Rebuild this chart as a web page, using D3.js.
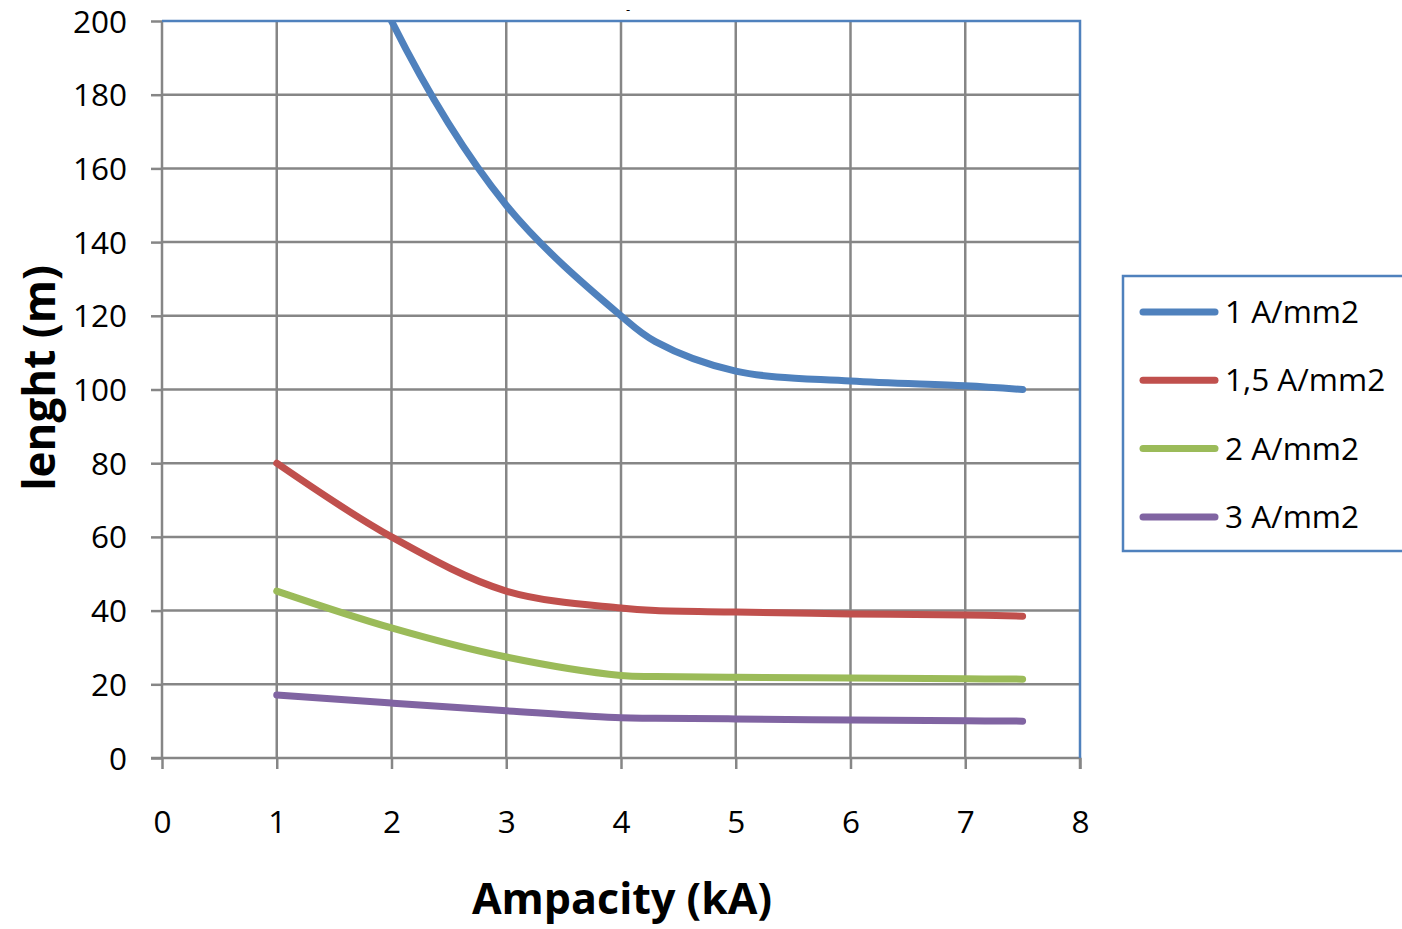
<!DOCTYPE html>
<html>
<head>
<meta charset="utf-8">
<script src="https://cdn.jsdelivr.net/npm/d3@7"></script>
<style>
  body { margin: 0; background: #fff; }
  text { font-family: "Open Sans", sans-serif; fill: #000; }
</style>
</head>
<body>
<div id="chart"></div>
<script>
// data (blue at 1 kA is off the top, estimated and clipped)
let amps = [1, 2, 3, 4, 4.3, 5, 6, 7, 7.5];
let len_blue = [280, 200, 150, 120, 113, 105, 102.3, 101, 100];
let len_red = [80, 60, 45.3, 40.7, 40, 39.6, 39.1, 38.8, 38.5];
let len_green = [45.3, 35.3, 27.4, 22.4, 22.1, 21.9, 21.7, 21.5, 21.4];
let len_purple = [17.1, 14.9, 12.8, 10.9, 10.8, 10.6, 10.3, 10.1, 10];

let series_names = ['1 A/mm2', '1,5 A/mm2', '2 A/mm2', '3 A/mm2'];
let series_colors = ['#4f81bd', '#c0504d', '#9bbb59', '#8064a2'];

let x_ticks = [0, 1, 2, 3, 4, 5, 6, 7, 8];
let y_ticks = [0, 20, 40, 60, 80, 100, 120, 140, 160, 180, 200];

let svg_width = 1402;
let svg_height = 929;

// plot area in pixels
let plot_left = 162, plot_right = 1080, plot_top = 21, plot_bottom = 758;

let svg = d3.select('#chart')
            .append('svg')
            .attr('width', svg_width)
            .attr('height', svg_height);

let x = d3.scaleLinear().domain([0, 8]).range([plot_left, plot_right]);
let y = d3.scaleLinear().domain([0, 200]).range([plot_bottom, plot_top]);

let grid_color = '#868686';

// clip lines to the plot area
svg.append('clipPath')
   .attr('id', 'plot_clip')
   .append('rect')
   .attr('x', plot_left).attr('y', plot_top)
   .attr('width', plot_right - plot_left)
   .attr('height', plot_bottom - plot_top + 20);

// vertical gridlines
svg.selectAll('.vgrid')
   .data(x_ticks.slice(1, -1))
   .enter()
   .append('line')
   .attr('x1', d => x(d)).attr('x2', d => x(d))
   .attr('y1', plot_top).attr('y2', plot_bottom)
   .attr('stroke', grid_color).attr('stroke-width', 2.5);

// horizontal gridlines
svg.selectAll('.hgrid')
   .data(y_ticks.slice(1, -1))
   .enter()
   .append('line')
   .attr('x1', plot_left).attr('x2', plot_right)
   .attr('y1', d => y(d)).attr('y2', d => y(d))
   .attr('stroke', grid_color).attr('stroke-width', 2.5);

// axes
let x_axis = d3.axisBottom(x).tickValues(x_ticks).tickSize(11).tickFormat(d3.format('d'));
let y_axis = d3.axisLeft(y).tickValues(y_ticks).tickSize(11).tickFormat(d3.format('d'));

let gx = svg.append('g').attr('transform', `translate(0,${plot_bottom})`).call(x_axis);
let gy = svg.append('g').attr('transform', `translate(${plot_left},0)`).call(y_axis);

[gx, gy].forEach(g => {
  g.select('.domain').attr('stroke', grid_color).attr('stroke-width', 2.5);
  g.selectAll('.tick line').attr('stroke', grid_color).attr('stroke-width', 2.5);
  g.selectAll('.tick text')
   .attr('font-family', '"Open Sans", sans-serif')
   .attr('font-size', 31.5)
   .attr('fill', '#000');
});
gx.select('.domain').attr('d', `M${plot_left - 11},0H${plot_right}V11`);
gy.select('.domain').attr('d', `M0,${plot_top}V${plot_bottom}`);
gx.selectAll('.tick text').attr('dy', 0).attr('y', 75);
gy.selectAll('.tick text').attr('x', -35).attr('dy', '0.35em');

// plot border top and right (blue)
svg.append('path')
   .attr('d', `M${plot_left},${plot_top}H${plot_right}V${plot_bottom}`)
   .attr('fill', 'none')
   .attr('stroke', '#4f81bd')
   .attr('stroke-width', 2.5);

// lines
let line = d3.line()
             .x(d => x(d[0]))
             .y(d => y(d[1]))
             .curve(d3.curveCatmullRom.alpha(0.5));

let all_series = [len_blue, len_red, len_green, len_purple].map(v => d3.zip(amps, v));

svg.append('g')
   .attr('clip-path', 'url(#plot_clip)')
   .selectAll('path')
   .data(all_series)
   .enter()
   .append('path')
   .attr('d', d => line(d))
   .attr('fill', 'none')
   .attr('stroke', (d, i) => series_colors[i])
   .attr('stroke-width', 7)
   .attr('stroke-linecap', 'round')
   .attr('stroke-linejoin', 'round');

// axis titles
svg.append('text')
   .attr('x', 622)
   .attr('y', 914)
   .attr('text-anchor', 'middle')
   .attr('font-size', 43)
   .attr('font-weight', 'bold')
   .text('Ampacity (kA)');

svg.append('text')
   .attr('transform', 'translate(55,378) rotate(-90)')
   .attr('text-anchor', 'middle')
   .attr('font-size', 44)
   .attr('font-weight', 'bold')
   .text('lenght (m)');

// tiny title remnant at top
svg.append('text')
   .attr('x', 628)
   .attr('y', 9)
   .attr('dominant-baseline', 'central')
   .attr('text-anchor', 'middle')
   .attr('font-size', 13)
   .text('-');

// legend
let legend = svg.append('g');
legend.append('rect')
      .attr('x', 1123).attr('y', 276)
      .attr('width', 300).attr('height', 275)
      .attr('fill', '#fff')
      .attr('stroke', '#4f81bd')
      .attr('stroke-width', 2.5);

let rows = legend.selectAll('.row')
                 .data(series_names)
                 .enter()
                 .append('g')
                 .attr('transform', (d, i) => `translate(0,${312 + i * 68.3})`);

rows.append('line')
    .attr('x1', 1143).attr('x2', 1215)
    .attr('y1', 0).attr('y2', 0)
    .attr('stroke', (d, i) => series_colors[i])
    .attr('stroke-width', 7)
    .attr('stroke-linecap', 'round');

rows.append('text')
    .attr('x', 1225)
    .attr('dy', '0.35em')
    .attr('font-size', 31.5)
    .text(d => d);
</script>
</body>
</html>
